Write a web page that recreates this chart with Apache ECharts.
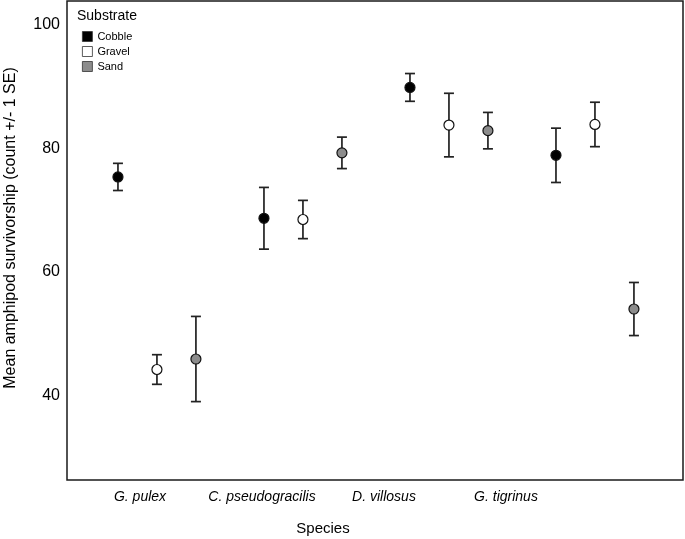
<!DOCTYPE html>
<html>
<head>
<meta charset="utf-8">
<script src="https://cdn.jsdelivr.net/npm/echarts@6/dist/echarts.min.js"></script>
<style>html,body{margin:0;padding:0;background:#fff}#c{width:685px;height:539px}</style>
</head>
<body>
<div id="c"></div>
<script>
const species = ['G. pulex', 'C. pseudogracilis', 'D. villosus', 'G. tigrinus'];
const substrates = ['Cobble', 'Gravel', 'Sand'];
const cobbleMean = [75.4, 68.7, 89.9, 78.9];
const cobbleSE   = [2.2, 5.0, 2.25, 4.4];
const gravelMean = [44.2, 68.5, 83.8, 83.9];
const gravelSE   = [2.4, 3.1, 5.15, 3.6];
const sandMean   = [45.9, 79.3, 82.9, 54.0];
const sandSE     = [6.9, 2.55, 2.95, 4.3];
const yTicks = [40, 60, 80, 100];

const FONT = 'Liberation Sans, Arial, Helvetica, sans-serif';
const fills = ['#000000', '#ffffff', '#8c8c8c'];
const offsets = [-0.267, 0, 0.267];
const means = [cobbleMean, gravelMean, sandMean];
const ses = [cobbleSE, gravelSE, sandSE];

const series = [];
substrates.forEach((name, s) => {
  series.push({
    type: 'custom',
    name: name + ' SE',
    xAxisIndex: 0, yAxisIndex: 0,
    z: 2,
    silent: true,
    data: means[s].map((m, i) => [i + offsets[s], m - ses[s][i], m + ses[s][i]]),
    renderItem: function (params, api) {
      const x = api.value(0);
      const top = api.coord([x, api.value(2)]);
      const bot = api.coord([x, api.value(1)]);
      const w = 5;
      const st = { stroke: '#222', lineWidth: 1.7 };
      return {
        type: 'group',
        children: [
          { type: 'line', shape: { x1: top[0], y1: top[1], x2: bot[0], y2: bot[1] }, style: st },
          { type: 'line', shape: { x1: top[0] - w, y1: top[1], x2: top[0] + w, y2: top[1] }, style: st },
          { type: 'line', shape: { x1: bot[0] - w, y1: bot[1], x2: bot[0] + w, y2: bot[1] }, style: st }
        ]
      };
    }
  });
});
substrates.forEach((name, s) => {
  series.push({
    type: 'scatter',
    name: name,
    xAxisIndex: 0, yAxisIndex: 0,
    z: 5,
    symbol: 'circle',
    symbolSize: 10,
    itemStyle: { color: fills[s], borderColor: '#111', borderWidth: 1.2, opacity: 1 },
    data: means[s].map((m, i) => [i + offsets[s], m])
  });
});

const chart = echarts.init(document.getElementById('c'), null, { renderer: 'canvas' });
chart.setOption({
  animation: false,
  backgroundColor: '#fff',
  textStyle: { fontFamily: FONT },
  title: {
    text: 'Substrate', left: 72, top: 4,
    textStyle: { fontFamily: FONT, fontSize: 14, fontWeight: 'normal', color: '#000' }
  },
  legend: {
    data: substrates,
    orient: 'vertical', left: 77, top: 26,
    icon: 'rect', itemWidth: 10, itemHeight: 10, itemGap: 4,
    itemStyle: { borderWidth: 0.8, borderColor: '#333' },
    textStyle: { fontFamily: FONT, fontSize: 11, color: '#000' },
    selectedMode: false
  },
  grid: [
    { left: 67, right: 2, top: 1, bottom: 59, show: true, borderColor: '#1a1a1a', borderWidth: 1.5, backgroundColor: 'transparent', outerBoundsMode: 'none', containLabel: false },
    { left: 79, right: 118, top: 1, bottom: 59, show: false, outerBoundsMode: 'none', containLabel: false }
  ],
  xAxis: [
    { type: 'value', gridIndex: 0, min: -0.616, max: 3.603, show: false, splitLine: { show: false } },
    {
      type: 'category', gridIndex: 1, data: species,
      axisLine: { show: false }, axisTick: { show: false },
      axisLabel: { interval: 0, hideOverlap: false, fontFamily: FONT, fontSize: 14, fontStyle: 'italic', color: '#000', margin: 10 },
      name: 'Species', nameLocation: 'middle', nameGap: 41,
      nameTextStyle: { fontFamily: FONT, fontSize: 15, color: '#000' }
    }
  ],
  yAxis: [
    {
      type: 'value', gridIndex: 0, min: 26.3, max: 103.9,
      axisLine: { show: false }, axisTick: { show: false }, splitLine: { show: false },
      axisLabel: { customValues: yTicks, fontFamily: FONT, fontSize: 16, color: '#000', margin: 7 }
    },
    { type: 'value', gridIndex: 1, show: false, min: 0, max: 1 }
  ],
  graphic: [{
    type: 'text', x: 11, y: 228, rotation: Math.PI / 2,
    style: {
      text: 'Mean amphipod survivorship (count +/- 1 SE)',
      x: 0, y: 0, textAlign: 'center', textVerticalAlign: 'middle',
      font: '16px ' + FONT, fill: '#000'
    }
  }],
  series: series
});
</script>
</body>
</html>
